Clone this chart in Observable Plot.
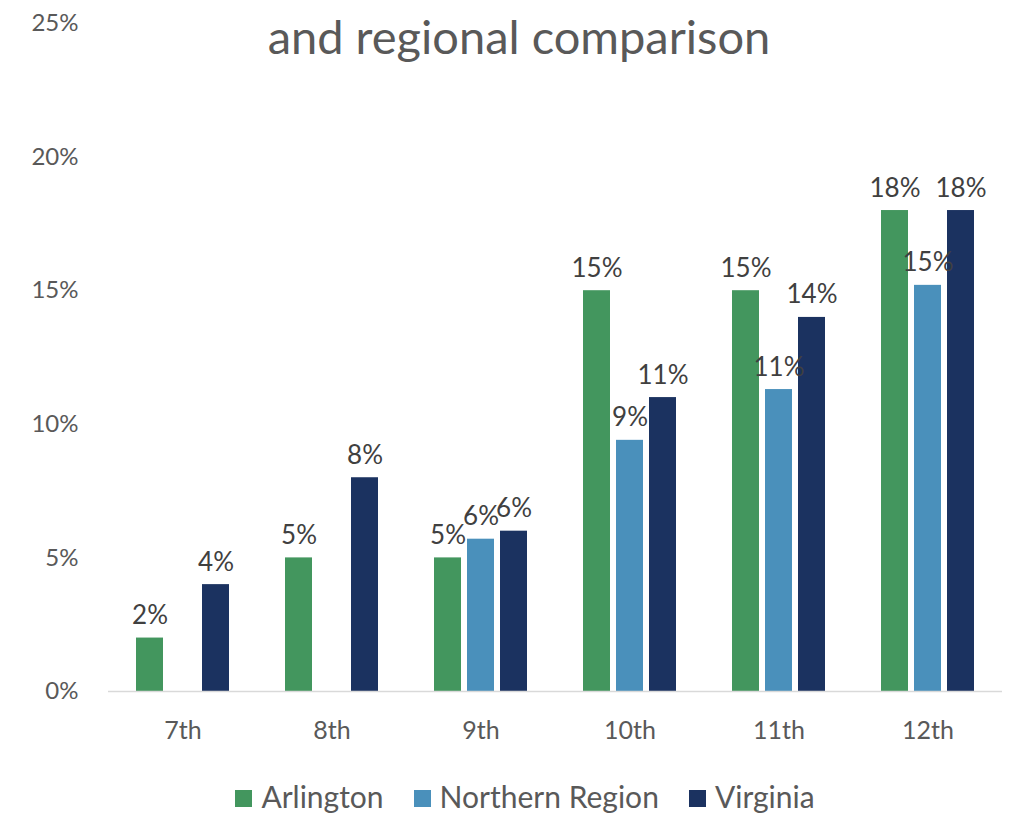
<!DOCTYPE html>
<html><head><meta charset="utf-8">
<script src="https://cdn.jsdelivr.net/npm/d3@7"></script>
<script src="https://cdn.jsdelivr.net/npm/@observablehq/plot@0.6"></script>
<style>
body{margin:0;background:#fff;font-family:Lato,"Open Sans",sans-serif;}
#wrap{position:relative;width:1020px;height:813px;overflow:hidden;}
#title{position:absolute;left:0;top:13px;width:1038px;text-align:center;font-size:47px;color:#595959;line-height:1;}
#chart{position:absolute;left:0;top:0;}
#legend{position:absolute;left:0;top:778px;width:1050px;display:flex;justify-content:center;gap:30px;font-size:30px;color:#595959;}
#legend span.sw{display:inline-block;width:17px;height:17px;margin-right:9px;vertical-align:middle;position:relative;top:-2px;}
</style></head>
<body><div id="wrap"><div id="title">and regional comparison</div><div id="chart"></div><div id="legend"></div></div>
<script>
const grades = ["7th","8th","9th","10th","11th","12th"];
const series = ["Arlington","Northern Region","Virginia"];
const colors = ["#43965E","#4A90BB","#1B3260"];
const arlington = [2, 5, 5, 15, 15, 18];
const northern = [null, null, 5.7, 9.4, 11.3, 15.2];
const virginia = [4, 8, 6, 11, 14, 18];
const yTicks = [0, 5, 10, 15, 20, 25];

const rows = [];
[arlington, northern, virginia].forEach((vals, si) => {
  vals.forEach((v, gi) => { if (v != null) rows.push({grade: grades[gi], series: series[si], value: v}); });
});

const chart = Plot.plot({
  width: 1020, height: 760,
  marginTop: 23, marginBottom: 69, marginLeft: 106, marginRight: 17,
  style: {fontFamily: "Lato, 'Open Sans', sans-serif", color: "#595959"},
  fx: {domain: grades, padding: 0, label: null},
  x: {domain: series, axis: null, paddingInner: 0.19, paddingOuter: 0.84},
  y: {domain: [0, 25], label: null},
  color: {domain: series, range: colors},
  marks: [
    Plot.barY(rows, {fx: "grade", x: "series", y: "value", fill: "series"}),
    Plot.ruleY([0], {stroke: "#d9d9d9", strokeWidth: 1.5}),
    Plot.text(rows, {fx: "grade", x: "series", y: "value", text: d => Math.round(d.value) + "%", lineAnchor: "bottom", dy: -14, fontSize: 26, fill: "#404040"}),
    Plot.axisY(yTicks, {tickSize: 0, tickPadding: 30, tickFormat: d => d + "%", fontSize: 24, fill: "#595959", label: null}),
    Plot.axisFx({anchor: "bottom", tickSize: 0, tickPadding: 30, fontSize: 25, fill: "#595959", label: null})
  ]
});
document.getElementById("chart").appendChild(chart);

const leg = document.getElementById("legend");
series.forEach((s, i) => {
  const d = document.createElement("div");
  d.innerHTML = `<span class="sw" style="background:${colors[i]}"></span>${s}`;
  leg.appendChild(d);
});
</script></body></html>
